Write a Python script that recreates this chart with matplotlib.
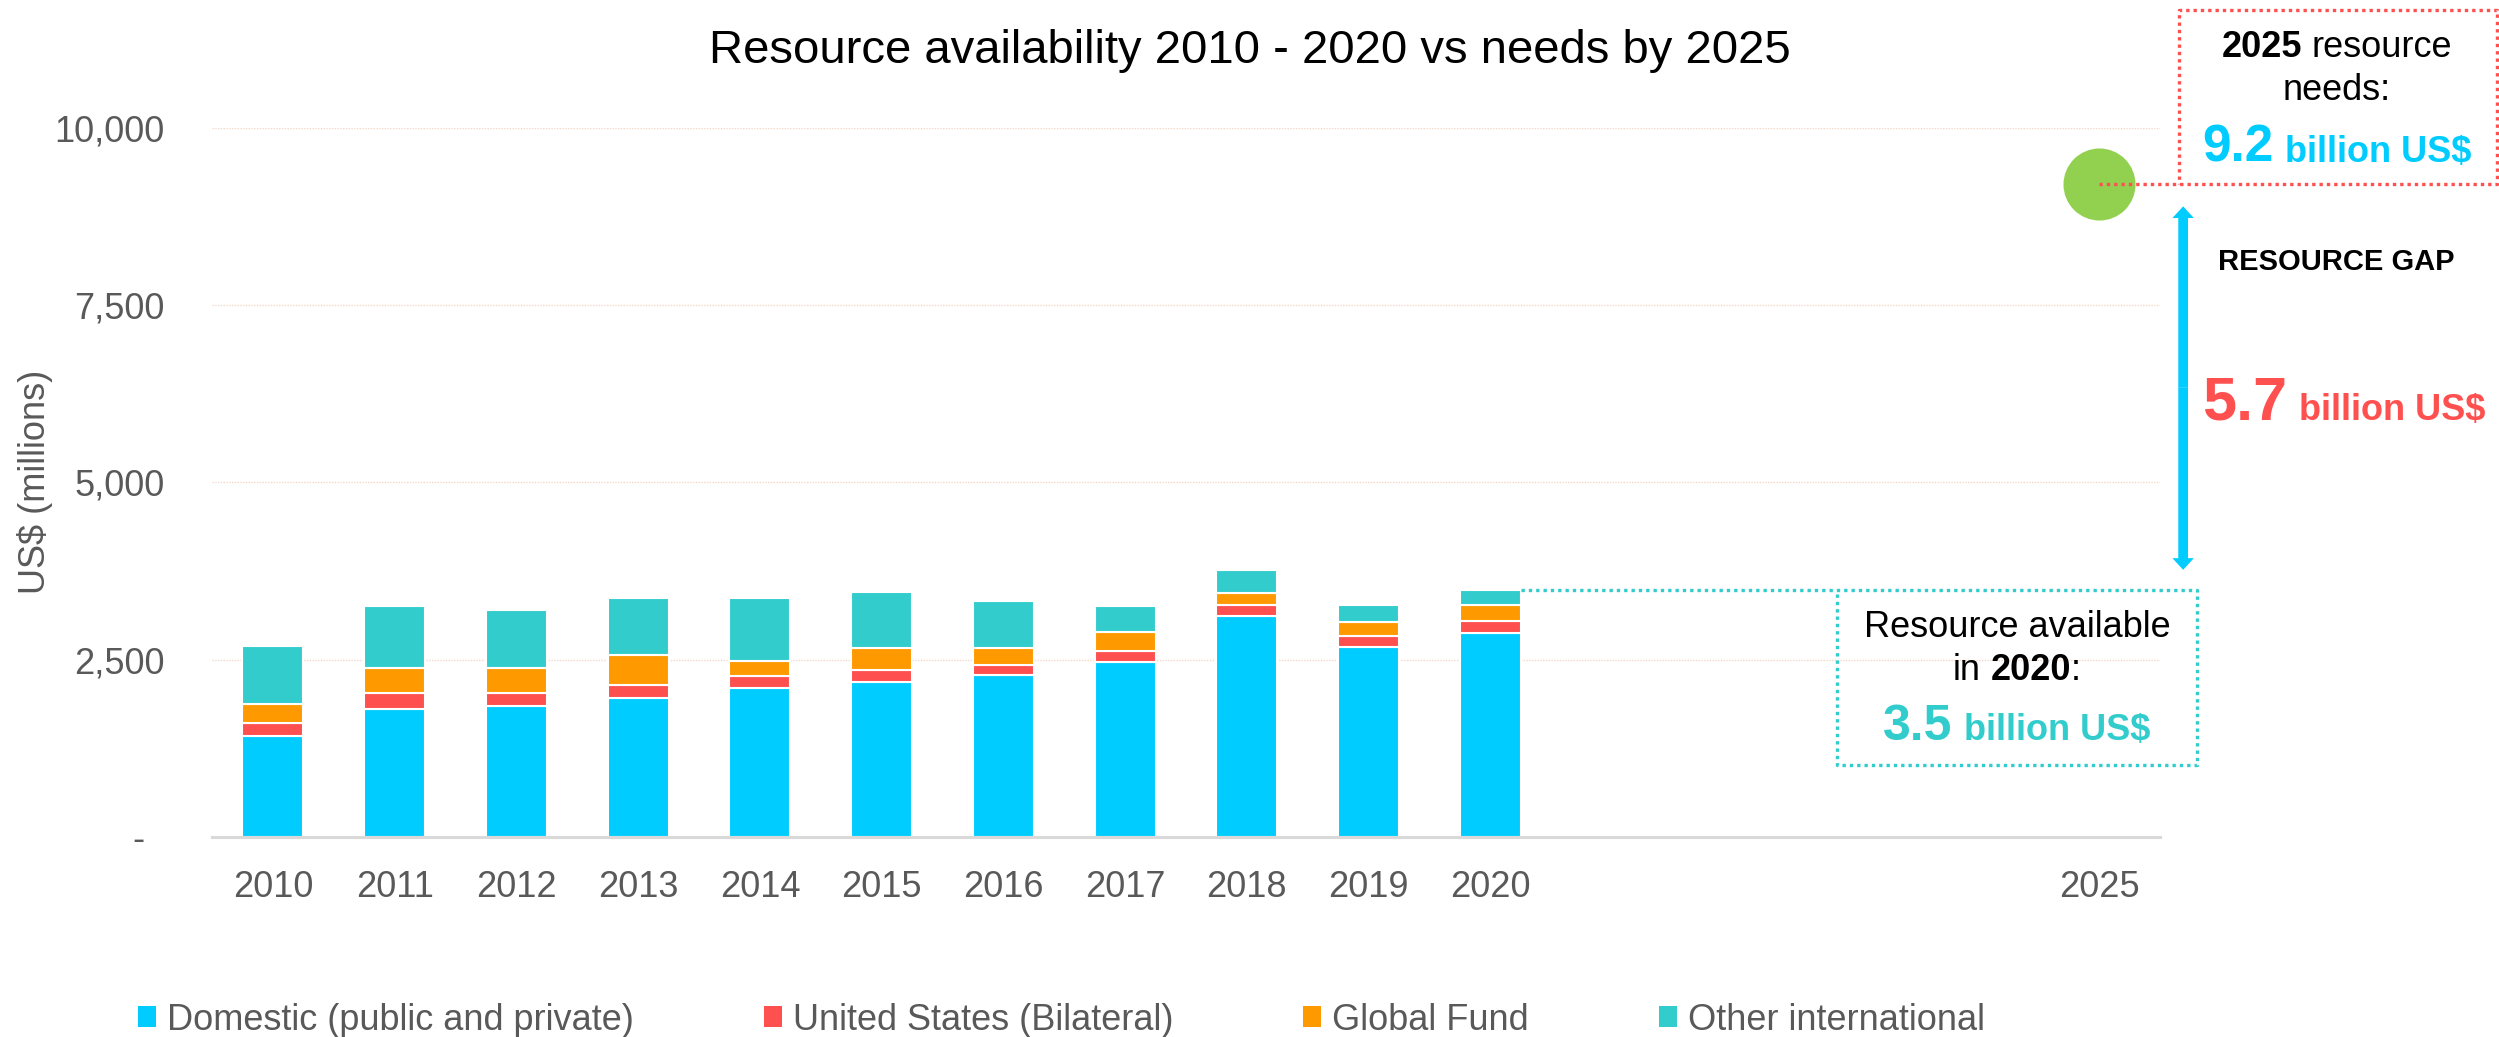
import numpy as np
import matplotlib
matplotlib.use("Agg")
import matplotlib.pyplot as plt
from matplotlib.patches import Patch, FancyArrowPatch
from matplotlib import transforms

plt.rcParams["font.family"] = ["Liberation Sans", "DejaVu Sans"]

# funding by source, US$ millions
years = [2010, 2011, 2012, 2013, 2014, 2015, 2016, 2017, 2018, 2019, 2020]
domestic = [1430, 1807, 1850, 1960, 2095, 2180, 2290, 2467, 3113, 2675, 2877]
united_states = [180, 226, 185, 185, 180, 170, 130, 156, 161, 165, 161]
global_fund = [265, 349, 350, 420, 210, 320, 250, 273, 169, 193, 231]
other_intl = [815, 868, 820, 805, 880, 780, 655, 359, 321, 231, 212]

series_names = ["Domestic (public and private)", "United States (Bilateral)",
                "Global Fund", "Other international"]
series_colors = ["#00CCFF", "#FF5050", "#FF9900", "#33CCCC"]

need_year = 2025
need_2025 = 9200

yticks = [0, 2500, 5000, 7500, 10000]
ytick_labels = ["-", "2,500", "5,000", "7,500", "10,000"]

W, H = 2499, 1037
fig = plt.figure(figsize=(W / 100, H / 100), dpi=100)
ax = fig.add_axes([212 / W, 1 - 837 / H, 1948 / W, (837 - 127.6) / H])

bottom = np.zeros(len(years))
for vals, col in zip([domestic, united_states, global_fund, other_intl], series_colors):
    ax.bar(years, vals, width=0.5, bottom=bottom, color=col,
           edgecolor="white", linewidth=1.5, zorder=2)
    bottom += np.array(vals)

available_2020 = bottom[-1]
gap = need_2025 - available_2020

ax.set_xlim(2009.5, 2025.5)
ax.set_ylim(0, 10000)
xticks = years + [need_year]
ax.set_xticks(xticks, [str(y) for y in xticks])
ax.set_yticks(yticks, ytick_labels)
ax.tick_params(axis="both", length=0, labelsize=26, labelcolor="#595959")
ax.tick_params(axis="x", pad=24)
ax.tick_params(axis="y", pad=34)
ax.grid(axis="y", color="#F6D8CA", linestyle=(0, (1, 1)), linewidth=1)
ax.set_axisbelow(True)
for s in ["top", "right", "left"]:
    ax.spines[s].set_visible(False)
ax.spines["bottom"].set_color("#D9D9D9")
ax.spines["bottom"].set_linewidth(2.2)

# accounting style zero sits a bit left of the other labels
zero_lbl = ax.yaxis.get_major_ticks()[0].label1
zero_lbl.set_transform(zero_lbl.get_transform()
                       + transforms.ScaledTranslation(-0.2, 0, fig.dpi_scale_trans))

# 2025 need marker and its callout box
ax.scatter([need_year], [need_2025], s=2690, color="#92D050", linewidths=0,
           zorder=4, clip_on=False)
rb_l, rb_r, rb_top = 2025.66, 2028.27, need_2025 + 2460
ax.plot([need_year, rb_r, rb_r, rb_l, rb_l],
        [need_2025, need_2025, rb_top, rb_top, need_2025],
        color="#FF5050", lw=2.4, ls=(0, (1, 1.2)), clip_on=False, zorder=5)

# 2020 available callout box
tb_l, tb_r, tb_bot = 2022.85, 2025.80, 1015
ax.plot([years[-1] + 0.25, tb_r, tb_r, tb_l, tb_l],
        [available_2020, available_2020, tb_bot, tb_bot, available_2020],
        color="#33CCCC", lw=2.4, ls=(0, (1, 1.2)), clip_on=False, zorder=5)

# double headed gap arrow
arrow_x = 2025.69
arrow_mid = (need_2025 + available_2020) / 2
for y_end in [need_2025 - 310, available_2020 + 285]:
    ax.add_patch(FancyArrowPatch((arrow_x, arrow_mid), (arrow_x, y_end),
                                 arrowstyle="simple,head_length=0.6,head_width=1.1,tail_width=0.5",
                                 mutation_scale=14, color="#00CCFF", lw=0,
                                 shrinkA=0, shrinkB=0, clip_on=False, zorder=5))


def rich_line(cx, base_y, pieces, gaps):
    """Lay text pieces side by side, centred on cx, on a shared baseline (pixels)."""
    texts = [fig.text(0, 1 - base_y / H, s, va="baseline", ha="left", **kw)
             for s, kw in pieces]
    r = fig.canvas.get_renderer()
    widths = [t.get_window_extent(r).width for t in texts]
    total = sum(widths) + sum(gaps)
    x = cx - total / 2
    for i, (t, w) in enumerate(zip(texts, widths)):
        t.set_x(x / W)
        x += w + (gaps[i] if i < len(gaps) else 0)


bold = dict(fontweight="bold")
rich_line(2337, 57, [("2025", dict(fontsize=26, **bold)), ("resource", dict(fontsize=26))], [10])
rich_line(2337, 100, [("needs:", dict(fontsize=26))], [])
rich_line(2337, 162, [(f"{need_2025 / 1000:.1f}", dict(fontsize=37, color="#00CCFF", **bold)),
                      ("billion US$", dict(fontsize=26, color="#00CCFF", **bold))], [12])

rich_line(2336, 270, [("RESOURCE GAP", dict(fontsize=21, **bold))], [])
rich_line(2344, 420, [(f"{gap / 1000:.1f}", dict(fontsize=44, color="#FF5050", **bold)),
                      ("billion US$", dict(fontsize=26, color="#FF5050", **bold))], [12])

rich_line(2017, 637, [("Resource available", dict(fontsize=26))], [])
rich_line(2017, 680, [("in", dict(fontsize=26)), ("2020", dict(fontsize=26, **bold)),
                      (":", dict(fontsize=26))], [10, 0])
rich_line(2017, 740, [(f"{available_2020 / 1000:.1f}", dict(fontsize=36, color="#33CCCC", **bold)),
                      ("billion US$", dict(fontsize=26, color="#33CCCC", **bold))], [12])

fig.text(0.5, 1 - 63 / H, "Resource availability 2010 - 2020 vs needs by 2025",
         ha="center", va="baseline", fontsize=34)
fig.text(35 / W, 1 - 482 / H, "US$ (millions)", rotation=90, ha="center",
         va="center", fontsize=26, color="#595959")

handles = [Patch(facecolor=c, edgecolor="none") for c in series_colors]
fig.legend(handles, series_names, loc="center left", bbox_to_anchor=(138 / W, 1 - 1020 / H),
           ncol=4, frameon=False, fontsize=26, handlelength=0.5, handleheight=0.5,
           handletextpad=0.3, columnspacing=3.6, borderpad=0, borderaxespad=0,
           labelcolor="#595959")

fig.savefig("out.png", dpi=100)
